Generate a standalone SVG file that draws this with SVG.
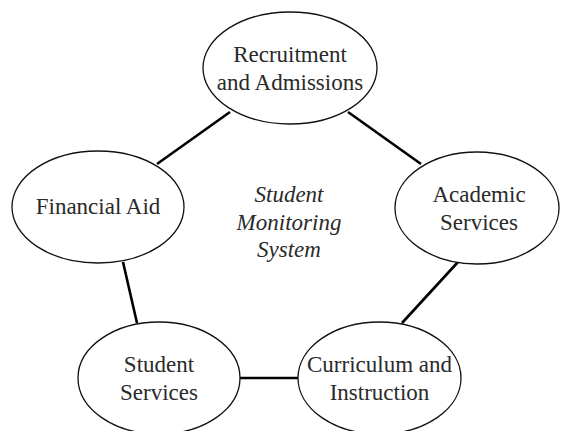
<svg xmlns="http://www.w3.org/2000/svg" width="561" height="431" viewBox="0 0 561 431">
<style>
.node ellipse{fill:#fff;stroke:#111;stroke-width:1.3}
.node text{font-family:"Liberation Serif","Times New Roman",serif;font-size:23px;fill:#2a2a2a;text-anchor:middle}
#center text{font-family:"Liberation Serif","Times New Roman",serif;font-size:23px;font-style:italic;fill:#2a2a2a;text-anchor:middle}
#connectors line{stroke:#000;stroke-width:2.6}
</style>
<rect width="561" height="431" fill="#fff"/>
<g id="connectors">
<line x1="230" y1="112" x2="157" y2="164"/>
<line x1="348" y1="112" x2="421" y2="164"/>
<line x1="123" y1="262" x2="137" y2="323"/>
<line x1="458" y1="262" x2="402" y2="323"/>
<line x1="240" y1="378" x2="298" y2="378"/>
</g>
<g id="recruitment" class="node">
<ellipse cx="290" cy="68" rx="87" ry="56"/>
<text x="290" y="62">Recruitment</text>
<text x="290" y="90">and Admissions</text>
</g>
<g id="financial" class="node">
<ellipse cx="98" cy="207" rx="86" ry="56"/>
<text x="98" y="214">Financial Aid</text>
</g>
<g id="academic" class="node">
<ellipse cx="477" cy="208" rx="82" ry="56"/>
<text x="479" y="202">Academic</text>
<text x="479" y="230">Services</text>
</g>
<g id="student" class="node">
<ellipse cx="159" cy="378" rx="81" ry="56"/>
<text x="159" y="372">Student</text>
<text x="159" y="400">Services</text>
</g>
<g id="curriculum" class="node">
<ellipse cx="379.5" cy="378" rx="81.5" ry="56"/>
<text x="379.5" y="372">Curriculum and</text>
<text x="379.5" y="400">Instruction</text>
</g>
<g id="center">
<text x="289" y="202">Student</text>
<text x="289" y="230">Monitoring</text>
<text x="289" y="257">System</text>
</g>
</svg>
